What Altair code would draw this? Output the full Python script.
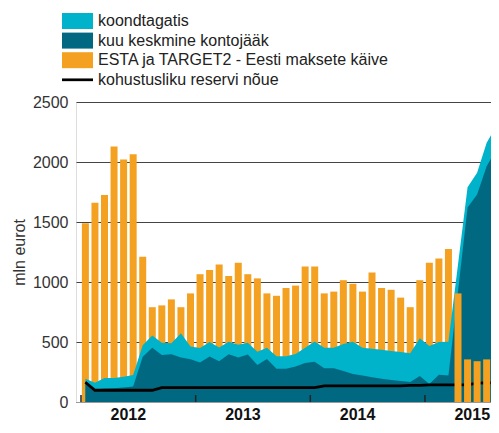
import altair as alt
import pandas as pd

# ---- data (Jan 2012 .. Aug 2015, monthly) ----
months = list(range(44))
years = ["2012", "2013", "2014", "2015"]
year_ticks = [0, 12, 24, 36]
year_label_pos = [4.9, 16.9, 28.9, 40.9]
y_ticks = [0, 500, 1000, 1500, 2000, 2500]

S_COLL = "koondtagatis"
S_BAL = "kuu keskmine kontojääk"
S_TURN = "ESTA ja TARGET2 - Eesti maksete käive"
S_RES = "kohustusliku reservi nõue"
series_names = [S_COLL, S_BAL, S_TURN, S_RES]
series_colors = ["#00B2CA", "#006880", "#F4A121", "#000000"]

turnover = [1490, 1660, 1725, 2130, 2020, 2065, 1210, 790, 805, 855, 790, 905,
            1065, 1100, 1145, 1050, 1160, 1065, 1030, 905, 885, 950, 970, 1130,
            1130, 905, 920, 1015, 985, 920, 1080, 950, 935, 870, 790, 1015,
            1160, 1195, 1275, 905, 355, 340, 355, 355]
collateral = [194, 161, 201, 201, 210, 226, 473, 554, 494, 489, 572, 462,
              450, 500, 454, 503, 478, 494, 419, 452, 382, 382, 401, 452,
              504, 452, 452, 484, 503, 452, 443, 435, 425, 417, 406, 531,
              466, 500, 502, 1145, 1790, 1910, 2160, 2297]
balance = [172, 104, 113, 115, 120, 129, 377, 452, 392, 398, 371, 357,
           330, 379, 339, 398, 371, 395, 309, 358, 277, 277, 296, 325,
           336, 282, 282, 258, 234, 220, 207, 194, 183, 175, 167, 216,
           150, 228, 220, 920, 1621, 1730, 1965, 2100]
reserve = [165, 98, 98, 98, 98, 98, 98, 98, 120, 120, 120, 120,
           120, 120, 120, 120, 120, 120, 120, 120, 120, 120, 120, 120,
           120, 134, 134, 134, 134, 134, 134, 134, 134, 134, 138, 138,
           142, 142, 142, 142, 142, 158, 160, 160]
front_from = 39  # bars from Apr 2015 are drawn over the areas

bars_df = pd.DataFrame({
    "m": months,
    "xc": [m + 0.46 for m in months],
    "v": turnover,
    "series": S_TURN,
})
coll_df = pd.DataFrame({"t": [m + 0.46 for m in months], "v": collateral, "series": S_COLL})
bal_df = pd.DataFrame({"t": [m + 0.46 for m in months], "v": balance, "series": S_BAL})
res_df = pd.DataFrame({"t": [m + 0.46 for m in months], "v": reserve, "series": S_RES})
tick_df = pd.DataFrame({"t": year_ticks})

FONT = "Liberation Sans"
W, H = 415, 300

X_SCALE = alt.Scale(domain=[0, 42.39], nice=False, zero=False)
X_AXIS = alt.Axis(values=year_label_pos, labelExpr=f"{years}[floor(datum.value/12)]",
                  title=None, grid=False, ticks=False, domain=True, domainColor="#999999",
                  domainWidth=1, labelFontSize=16, labelFontWeight="bold", labelColor="#111111",
                  labelPadding=4, labelFont=FONT)
Y_SCALE = alt.Scale(domain=[0, 2500], nice=False)
Y_AXIS = alt.Axis(values=y_ticks, format="d", grid=True, gridColor="#444444", gridWidth=1,
                  domain=False, ticks=False, labelFontSize=16, labelColor="#333333",
                  labelPadding=8, labelFont=FONT, title="mln eurot", titleFontSize=16,
                  titleFontWeight="normal", titleColor="#333333", titleFont=FONT,
                  titleX=-52, titleY=H / 2, titleAngle=270, titleAlign="center",
                  titleBaseline="alphabetic")

RECT = "M-1,-1H2.875V1H-1Z"
THIN = "M-1,-0.17H2.875V0.17H-1Z"
LEG = alt.Legend(
    orient="none", legendX=-14, legendY=-89, title=None, padding=0,
    symbolType={"expr": f"datum.value === '{S_RES}' ? '{THIN}' : '{RECT}'"},
    symbolSize=256, symbolStrokeWidth=0, symbolOpacity=1,
    labelFontSize=16, labelFont=FONT, labelColor="#222222", labelOffset=20,
    rowPadding=3.6, labelLimit=400,
)
COLOR = alt.Color("series:N", scale=alt.Scale(domain=series_names, range=series_colors), legend=LEG)


def bar_layer(front):
    cond = f"datum.m >= {front_from}" if front else f"datum.m < {front_from}"
    return alt.Chart(bars_df).transform_filter(cond).mark_bar(clip=True, size=7).encode(
        x=alt.X("xc:Q", scale=X_SCALE, axis=X_AXIS),
        y=alt.Y("v:Q", scale=Y_SCALE, axis=Y_AXIS, stack=None),
        y2=alt.datum(0),
        color=COLOR,
    )


def area_layer(df):
    return alt.Chart(df).mark_area(opacity=1, clip=True).encode(
        x=alt.X("t:Q", scale=X_SCALE, axis=X_AXIS),
        y=alt.Y("v:Q", scale=Y_SCALE, axis=Y_AXIS, stack=None),
        color=COLOR,
    )


line = alt.Chart(res_df).mark_line(strokeWidth=2.8, clip=True).encode(
    x=alt.X("t:Q", scale=X_SCALE, axis=X_AXIS),
    y=alt.Y("v:Q", scale=Y_SCALE, axis=Y_AXIS, stack=None),
    color=COLOR,
)

ticks = alt.Chart(tick_df).mark_rule(color="#222222", strokeWidth=1.5).encode(
    x=alt.X("t:Q", scale=X_SCALE, axis=X_AXIS),
    y=alt.value(H),
    y2=alt.value(H - 7),
)

chart = alt.layer(
    bar_layer(False), area_layer(coll_df), area_layer(bal_df), line, bar_layer(True), ticks
).properties(
    width=W, height=H,
    autosize=alt.AutoSizeParams(type="none"),
    padding={"left": 68, "top": 94, "right": 0, "bottom": 23},
).configure_view(stroke=None).configure(background="white")

chart.save("out.html", embed_options={"renderer": "svg", "actions": False})
